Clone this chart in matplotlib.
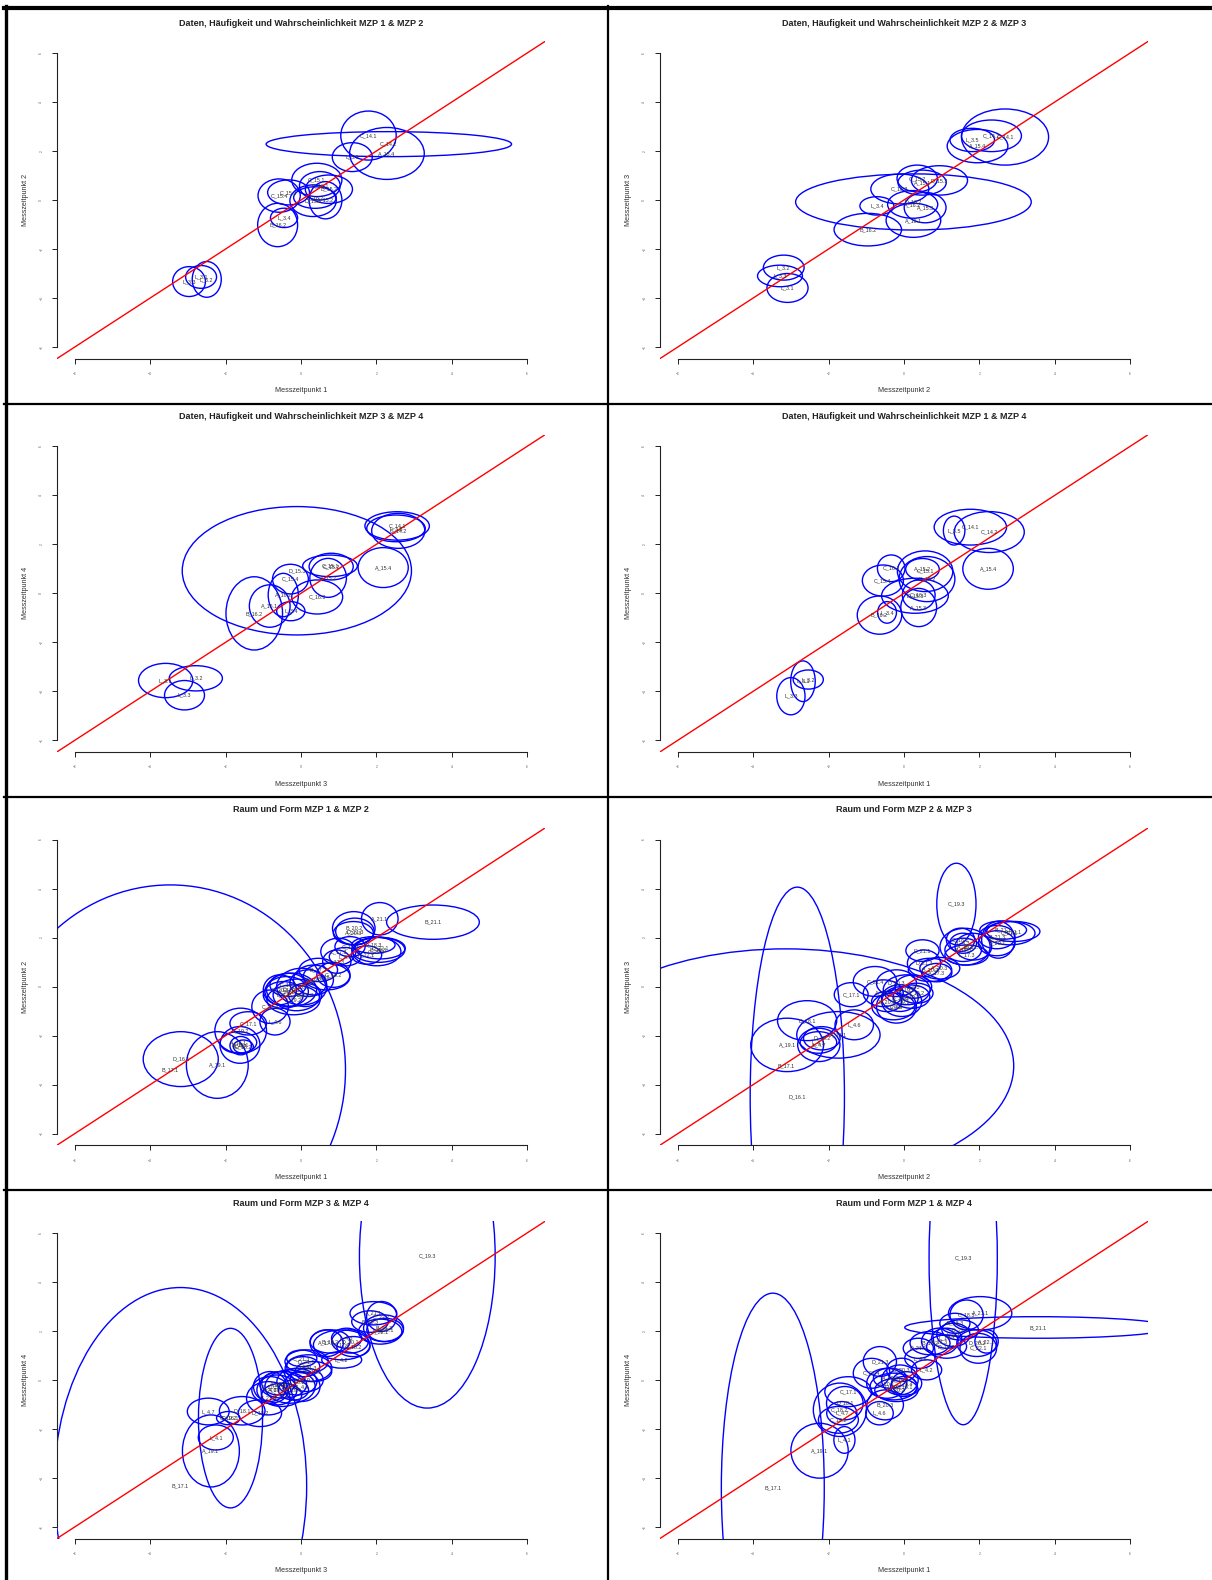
import numpy as np
import matplotlib
matplotlib.use("Agg")
import matplotlib.pyplot as plt
from matplotlib.patches import Ellipse
from matplotlib.lines import Line2D

plt.rcParams['font.family'] = ['Liberation Sans', 'DejaVu Sans']

W, H = 1212, 1580

# ---- Daten, Haeufigkeit und Wahrscheinlichkeit ----
lab1 = ["C_14.2","C_14.1","A_15.4","L_3.6","C_15.1","B_15.2","D_16.1","C_15.4","C_15.3","D_15.1","A_15.2","D_16.2","L_3.4","B_16.2","L_3.3","L_3.1","L_3.2"]
x1 = [2.33,1.79,2.28,1.36,0.42,0.74,0.50,-0.58,-0.33,0.32,0.65,0.37,-0.45,-0.62,-2.97,-2.65,-2.50]
y1 = [2.28,2.63,1.90,1.75,0.82,0.44,0.58,0.18,0.31,-0.03,-0.01,0.10,-0.73,-1.02,-3.33,-3.14,-3.24]
w1 = [6.51,1.47,1.98,1.06,1.33,1.25,1.08,1.12,1.11,1.23,0.87,1.13,0.72,1.06,0.87,0.82,0.77]
h1 = [1.02,2.00,2.12,1.18,1.36,1.16,1.16,1.36,1.02,1.29,1.52,0.88,0.79,1.77,1.22,0.93,1.46]

lab2 = ["D_16.2","C_14.1","C_14.2","A_15.4","L_3.5","C_15.2","A_15.1","D_15.3","C_16.3","A_16.2","A_15.3","A_16.1","L_3.4","B_16.2","L_3.2","L_3.3","L_3.1"]
x2 = [0.25,2.68,2.32,1.95,1.81,0.35,0.48,0.94,-0.11,0.23,0.56,0.25,-0.72,-0.96,-3.19,-3.29,-3.09]
y2 = [-0.08,2.57,2.62,2.20,2.45,0.88,0.71,0.80,0.45,-0.18,-0.31,-0.83,-0.24,-1.21,-2.76,-3.10,-3.59]
w2 = [6.25,2.31,1.59,1.61,1.18,1.07,1.28,1.49,1.54,1.33,1.11,1.45,0.90,1.79,1.08,1.19,1.09]
h2 = [2.29,2.29,1.29,1.36,0.95,1.09,1.02,1.20,1.22,1.13,1.24,1.39,0.75,1.33,1.02,0.88,1.18]

lab3 = ["D_15.3","C_14.1","L_3.5","C_14.2","A_15.4","C_15.1","C_15.2","A_15.2","C_15.4","A_16.2","C_16.3","A_15.1","B_16.2","L_3.4","L_3.1","L_3.2","L_3.3"]
x3 = [-0.11,2.55,2.52,2.58,2.18,0.77,0.80,0.72,-0.28,-0.47,0.43,-0.83,-1.24,-0.27,-3.59,-2.79,-3.09]
y3 = [0.92,2.75,2.65,2.55,1.05,1.12,1.09,0.63,0.58,-0.07,-0.15,-0.52,-0.82,-0.73,-3.56,-3.47,-4.16]
w3 = [6.08,1.71,1.55,1.41,1.33,1.45,1.17,0.97,0.95,0.80,1.35,1.08,1.50,0.75,1.44,1.41,1.06]
h3 = [5.24,1.16,1.09,1.43,1.63,0.88,1.09,1.59,1.21,1.77,1.39,1.73,2.99,0.78,1.40,1.03,1.20]

lab4 = ["C_14.1","L_3.5","C_14.2","A_15.4","C_16.1","C_15.1","D_15.2","A_15.2","C_15.4","D_15.3","C_16.3","A_15.3","B_16.2","L_3.4","L_3.1","L_3.2","L_3.3"]
x4 = [1.76,1.33,2.26,2.23,-0.34,0.56,0.61,0.49,-0.56,0.29,0.39,0.39,-0.65,-0.45,-2.68,-2.54,-3.00]
y4 = [2.70,2.56,2.50,1.00,1.02,0.90,0.58,0.98,0.52,-0.10,-0.07,-0.58,-0.89,-0.78,-3.59,-3.52,-4.20]
w4 = [1.92,0.57,1.86,1.34,0.73,1.47,1.48,0.89,1.09,1.77,0.87,0.95,1.18,0.50,0.65,0.80,0.75]
h4 = [1.46,1.18,1.67,1.67,1.09,1.66,1.84,0.88,1.27,1.43,1.22,1.56,1.56,0.88,1.66,0.78,1.52]

# ---- Raum und Form ----
lab5 = ["B_17.1","D_16.1","A_19.1","C_19.2","C_17.1","D_18.1","A_18.1","L_4.7","D_18.2","C_21.4","L_4.6","A_20.1","D_19.1","L_4.4","B_19.3","C_20.2","A_19.2","D_20.3","B_20.3","L_4.5","C_19.1","B_17.2","A_18.2","C_18.2","D_19.2","L_17.3","L_4.3","A_17.3","C_17.3","B_18.3","C_22.2","D_22.1","A_22.1","D_18.3","B_20.2","D_21.3","A_20.3","A_21.1","B_21.1"]
x5 = [-3.47,-3.19,-2.22,-1.60,-1.40,-1.62,-1.66,-1.60,-1.53,-0.82,-0.69,-0.38,-0.25,-0.47,-0.12,0.02,-0.20,-0.56,0.11,0.19,-0.34,0.46,0.68,0.86,0.33,0.99,1.17,0.95,1.30,2.05,2.01,2.10,1.74,1.92,1.40,1.43,1.39,2.09,3.50]
y5 = [-3.40,-2.96,-3.20,-1.80,-1.50,-2.38,-2.28,-2.41,-2.45,-0.82,-1.43,-0.20,-0.13,-0.34,-0.34,0.00,-0.54,-0.13,-0.34,0.14,0.07,0.68,0.41,0.48,0.27,1.43,1.22,1.02,1.63,1.50,1.43,1.57,1.29,1.70,2.38,2.25,2.18,2.77,2.63]
w5 = [9.30,1.99,1.64,1.37,0.97,1.06,0.97,0.57,0.53,0.97,0.80,1.15,1.33,1.06,1.24,1.33,1.41,0.88,0.88,0.97,0.97,1.02,1.24,0.88,1.06,0.93,0.84,0.75,0.80,1.41,1.28,1.33,0.80,1.15,1.13,1.02,1.06,0.97,2.46]
h5 = [15.1,2.24,2.72,1.84,0.95,1.50,0.88,0.75,0.54,1.36,1.09,1.22,1.36,1.09,1.29,1.50,1.22,1.22,0.95,1.09,0.95,0.95,1.09,1.02,1.22,1.09,0.75,0.95,0.82,1.02,1.16,0.88,0.75,0.68,1.36,1.09,0.95,1.32,1.40]

lab6 = ["D_16.1","B_17.1","C_19.3","A_19.1","D_18.1","L_4.7","L_4.1","D_18.2","A_18.1","L_4.6","C_17.1","C_21.4","A_20.1","D_20.3","B_19.3","C_20.2","L_4.4","L_4.5","A_19.2","D_19.1","C_19.1","B_20.3","D_19.2","D_21.1","D_21.3","B_20.2","A_20.3","A_17.3","C_18.2","B_18.3","L_17.3","A_18.2","D_22.1","L_4.3","B_21.1","A_21.1","B_21.3","B_20.1","C_22.2","C_21.1"]
x6 = [-2.83,-3.14,1.39,-3.10,-2.57,-2.26,-2.27,-2.18,-1.74,-1.32,-1.40,-0.77,-0.55,-0.20,-0.11,-0.28,-0.20,0.25,0.33,0.07,-0.06,-0.46,0.20,0.49,0.53,0.69,0.95,0.87,1.50,1.57,1.66,1.62,1.84,1.57,2.63,2.90,2.46,2.46,2.50,2.81]
y6 = [-4.49,-3.24,3.37,-2.38,-1.39,-2.38,-2.28,-2.11,-1.97,-1.56,-0.33,0.21,-0.27,0.14,-0.47,-0.81,-0.81,0.00,-0.27,-0.13,-0.61,-0.61,-0.41,1.47,0.95,0.68,0.75,0.57,1.91,1.50,1.29,1.63,1.63,1.77,2.31,2.25,2.02,1.77,1.91,2.18]
w6 = [2.50,12.1,1.04,1.93,1.57,1.12,0.97,0.97,2.21,1.02,0.90,1.15,1.06,1.06,0.97,1.15,1.06,0.97,0.88,1.24,1.06,0.80,0.97,0.88,0.88,1.15,1.06,0.80,0.75,0.97,1.15,1.33,0.97,0.71,1.24,1.41,0.97,0.97,0.88,1.33]
h6 = [17.1,9.56,3.33,2.18,1.63,1.36,0.88,0.95,1.90,1.22,0.98,1.22,1.09,1.09,1.09,1.09,1.36,0.95,0.82,1.22,1.22,0.82,0.95,0.88,1.09,0.95,0.88,0.75,0.95,0.95,0.82,1.50,1.09,0.82,0.75,0.82,0.95,1.02,1.50,0.95]

lab7 = ["B_17.1","D_16.1","C_19.3","A_19.1","L_4.1","L_4.7","D_18.1","C_19.2","C_21.4","L_4.6","D_18.2","A_18.1","A_20.1","D_20.3","B_19.3","C_20.2","L_4.4","A_19.2","D_19.1","C_19.1","B_20.3","D_21.1","D_21.3","L_4.5","D_19.2","C_21.3","L_4.2","B_17.2","A_17.3","L_17.3","D_20.1","C_18.2","L_4.3","A_21.1","B_18.3","C_22.2","B_21.3","D_22.1","A_22.1"]
x7 = [-3.20,-1.87,3.35,-2.39,-2.26,-2.46,-1.56,-1.93,-0.87,-0.82,-1.09,-0.60,-0.64,-0.47,-0.29,-0.11,0.02,-0.51,0.15,-0.20,-0.82,0.15,0.20,0.06,0.33,0.02,1.08,0.77,0.68,1.08,1.30,1.39,1.21,1.92,1.83,2.14,2.19,2.23,2.10]
y7 = [-4.33,-1.56,5.05,-2.90,-2.35,-1.29,-1.26,-1.56,-0.75,-0.41,-1.36,-0.14,-0.41,-0.20,-0.27,-0.07,-0.27,-0.61,0.00,-0.41,-0.27,0.75,0.48,0.54,0.34,0.88,0.82,1.57,1.50,1.43,1.57,1.36,1.70,2.72,2.38,2.59,2.11,2.04,1.97]
w7 = [6.70,1.70,3.60,1.51,0.93,1.11,1.21,0.62,1.15,0.97,1.15,0.88,1.06,1.24,1.33,1.06,0.97,1.06,0.88,0.80,0.88,1.15,1.24,0.88,0.97,0.80,1.06,1.06,0.88,1.50,0.97,0.88,0.80,1.24,0.97,0.80,1.06,0.97,1.15]
h7 = [16.2,7.33,12.4,2.94,1.02,1.09,1.16,0.54,1.36,1.09,1.09,0.95,1.22,1.09,1.36,1.09,1.22,0.95,0.95,0.82,1.22,0.95,1.09,0.82,0.82,0.68,0.68,0.95,1.09,1.22,0.95,0.82,0.82,0.95,0.88,1.22,1.09,0.95,1.02]

lab8 = ["B_17.1","C_19.3","B_21.1","A_19.1","L_4.1","C_18.2","D_18.1","L_4.7","C_17.1","C_19.2","L_4.6","B_20.3","C_21.4","D_21.3","A_20.1","D_19.1","B_19.3","C_20.2","L_4.4","D_20.3","A_19.2","C_19.1","L_4.2","D_21.1","L_4.5","B_17.2","A_17.3","L_17.3","D_19.2","L_4.3","A_21.1","C_18.3","B_18.3","C_22.1","D_20.2","A_22.1","D_22.1"]
x8 = [-3.48,1.57,3.55,-2.24,-1.58,-1.70,-1.57,-1.65,-1.48,-1.74,-0.65,-0.50,-0.86,-0.64,-0.46,-0.28,-0.11,-0.20,0.07,-0.06,-0.37,0.00,0.60,0.38,0.42,0.69,0.95,1.13,1.13,1.31,2.02,1.66,1.35,1.97,1.93,2.19,1.49]
y8 = [-4.41,4.97,2.14,-2.89,-2.45,-1.22,-0.95,-1.36,-0.48,-1.63,-1.36,-1.02,0.27,0.75,-0.14,-0.27,0.00,-0.41,-0.14,0.41,0.07,-0.27,0.41,1.29,0.88,1.50,1.57,1.70,1.36,1.84,2.72,2.65,2.31,1.29,1.50,1.57,2.04]
w8 = [2.73,1.81,7.06,1.52,0.56,1.41,0.97,0.80,1.24,1.06,0.73,0.97,0.97,0.88,1.06,1.24,0.97,1.15,0.80,0.80,0.88,0.71,0.80,0.80,0.80,1.06,0.97,0.80,1.06,0.88,1.68,0.88,0.80,0.97,1.06,0.62,0.97]
h8 = [15.9,13.6,0.88,2.24,1.09,2.18,1.36,0.95,1.22,1.09,0.95,1.22,1.22,1.22,1.22,1.09,1.22,0.95,0.95,0.95,0.82,0.82,0.82,0.82,0.82,0.95,1.09,0.82,0.95,0.95,1.36,1.22,0.82,1.22,1.09,0.95,0.82]

t_daten = "Daten, Häufigkeit und Wahrscheinlichkeit"
t_raum = "Raum und Form"
panels = [
    (0, 0, lab1, x1, y1, w1, h1, t_daten + " MZP 1 & MZP 2", 1, 2),
    (0, 1, lab2, x2, y2, w2, h2, t_daten + " MZP 2 & MZP 3", 2, 3),
    (1, 0, lab3, x3, y3, w3, h3, t_daten + " MZP 3 & MZP 4", 3, 4),
    (1, 1, lab4, x4, y4, w4, h4, t_daten + " MZP 1 & MZP 4", 1, 4),
    (2, 0, lab5, x5, y5, w5, h5, t_raum + " MZP 1 & MZP 2", 1, 2),
    (2, 1, lab6, x6, y6, w6, h6, t_raum + " MZP 2 & MZP 3", 2, 3),
    (3, 0, lab7, x7, y7, w7, h7, t_raum + " MZP 3 & MZP 4", 3, 4),
    (3, 1, lab8, x8, y8, w8, h8, t_raum + " MZP 1 & MZP 4", 1, 4),
]

ticks = [-6, -4, -2, 0, 2, 4, 6]
lim = 6.48
sx, sy = 37.7, 24.5      # pixel per unit
fig = plt.figure(figsize=(W/100, H/100), dpi=100)

for r, c, lab, xs, ys, ws, hs, title, mx, my in panels:
    x0 = 301 + 603*c
    y0 = 200 + 393.3*r
    left = x0 - lim*sx
    top = y0 - lim*sy
    aw, ah = 2*lim*sx, 2*lim*sy
    ax = fig.add_axes([left/W, 1 - (top+ah)/H, aw/W, ah/H])
    ax.set_xlim(-lim, lim)
    ax.set_ylim(-lim, lim)
    for s in ['top', 'right']:
        ax.spines[s].set_visible(False)
    for s in ['left', 'bottom']:
        ax.spines[s].set_bounds(-6, 6)
        ax.spines[s].set_linewidth(0.8)
        ax.spines[s].set_color('#222222')
    ax.set_xticks(ticks)
    ax.set_yticks(ticks)
    ax.tick_params(length=3.6, width=0.7, labelsize=2.3, pad=6, colors='#222222',
                   labelcolor='#555555')
    ax.tick_params(axis='y', labelrotation=90)
    for lb in ax.get_yticklabels():
        lb.set_va('center')
    ax.patch.set_alpha(0)

    for i in range(len(lab)):
        ax.add_patch(Ellipse((xs[i], ys[i]), ws[i], hs[i], fill=False,
                             edgecolor='#0000ff', lw=1.0))
        ax.text(xs[i], ys[i], lab[i], fontsize=3.9, color='#333333',
                ha='center', va='center', clip_on=True)
    ax.plot([-lim, lim], [-lim, lim], color='#ff0000', lw=1.0)

    ax.text(0.5, 1 + 18/ah, title, transform=ax.transAxes, ha='center',
            va='center', fontsize=6.5, fontweight='bold', color='#222222')
    ax.text(0.5, -32/ah, "Messzeitpunkt %d" % mx, transform=ax.transAxes,
            ha='center', va='center', fontsize=5.2, color='#333333')
    ax.text(-31.5/aw, 0.5, "Messzeitpunkt %d" % my, transform=ax.transAxes,
            ha='center', va='center', rotation=90, fontsize=5.2, color='#333333')

# black frame lines of the layout table
def hline(y, x_a, x_b, lw):
    fig.add_artist(Line2D([x_a/W, x_b/W], [1-y/H, 1-y/H], color='black', lw=lw))

def vline(x, y_a, y_b, lw):
    fig.add_artist(Line2D([x/W, x/W], [1-y_a/H, 1-y_b/H], color='black', lw=lw))

hline(8, 4, W, 3.0)
for yb in [404, 797, 1190]:
    hline(yb, 4, W, 1.6)
vline(5.5, 6, H, 2.4)
vline(608, 6, H, 1.6)

fig.savefig("out.png", dpi=100)
